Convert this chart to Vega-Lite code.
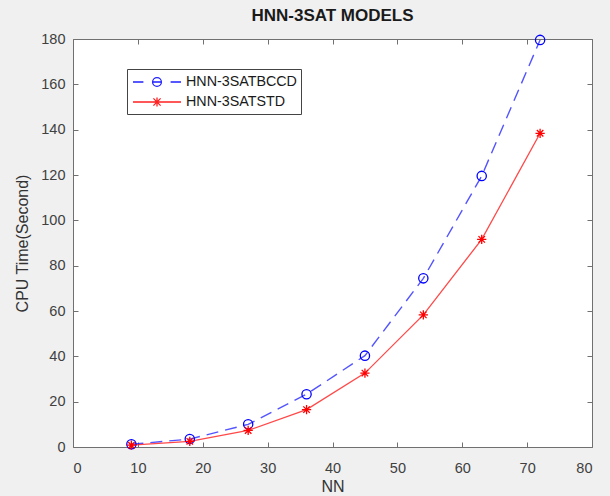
{
  "$schema": "https://vega.github.io/schema/vega-lite/v6.json",
  "width": 519,
  "height": 408,
  "autosize": {"type": "none"},
  "padding": {"left": 73, "top": 39, "right": 18, "bottom": 49},
  "background": "#f0f0f0",
  "title": {
    "text": "HNN-3SAT MODELS",
    "font": "Liberation Sans",
    "fontSize": 17,
    "fontWeight": "bold",
    "color": "#1a1a1a",
    "anchor": "middle",
    "offset": 6
  },
  "data": {
    "values": [
      {"NN": 9, "series": "HNN-3SATBCCD", "time": 1.2},
      {"NN": 18, "series": "HNN-3SATBCCD", "time": 3.5},
      {"NN": 27, "series": "HNN-3SATBCCD", "time": 10},
      {"NN": 36, "series": "HNN-3SATBCCD", "time": 23.3},
      {"NN": 45, "series": "HNN-3SATBCCD", "time": 40.3},
      {"NN": 54, "series": "HNN-3SATBCCD", "time": 74.4},
      {"NN": 63, "series": "HNN-3SATBCCD", "time": 119.6},
      {"NN": 72, "series": "HNN-3SATBCCD", "time": 179.6},
      {"NN": 9, "series": "HNN-3SATSTD", "time": 0.8},
      {"NN": 18, "series": "HNN-3SATSTD", "time": 2.5},
      {"NN": 27, "series": "HNN-3SATSTD", "time": 7.3},
      {"NN": 36, "series": "HNN-3SATSTD", "time": 16.5},
      {"NN": 45, "series": "HNN-3SATSTD", "time": 32.6},
      {"NN": 54, "series": "HNN-3SATSTD", "time": 58.3},
      {"NN": 63, "series": "HNN-3SATSTD", "time": 91.6},
      {"NN": 72, "series": "HNN-3SATSTD", "time": 138.4}
    ]
  },
  "encoding": {
    "x": {
      "field": "NN", "type": "quantitative",
      "scale": {"domain": [0, 80], "nice": false}
    },
    "y": {
      "field": "time", "type": "quantitative",
      "scale": {"domain": [0, 180], "nice": false}
    }
  },
  "layer": [
    {
      "transform": [{"filter": "datum.series === 'HNN-3SATBCCD'"}],
      "mark": {"type": "line", "strokeWidth": 1.4, "opacity": 0.75, "strokeDash": [12, 7], "stroke": "#1a1aff"},
      "encoding": {
        "x": {
          "field": "NN", "type": "quantitative",
          "axis": {"values": [0,10,20,30,40,50,60,70,80], "title": "NN", "titlePadding": 4}
        },
        "y": {
          "field": "time", "type": "quantitative",
          "axis": {"values": [0,20,40,60,80,100,120,140,160,180], "title": "CPU Time(Second)", "titlePadding": 10}
        }
      }
    },
    {
      "transform": [{"filter": "datum.series === 'HNN-3SATSTD'"}],
      "mark": {"type": "line", "strokeWidth": 1.3, "opacity": 0.8, "stroke": "#ff1a1a"},
      "encoding": {
        "x": {"field": "NN", "type": "quantitative", "axis": null},
        "y": {"field": "time", "type": "quantitative", "axis": null}
      }
    },
    {
      "transform": [{"filter": "datum.series === 'HNN-3SATBCCD'"}],
      "mark": {"type": "point", "shape": "circle", "filled": false, "size": 86, "strokeWidth": 1.3, "stroke": "#0000ff", "opacity": 1},
      "encoding": {
        "x": {
          "field": "NN", "type": "quantitative",
          "axis": {"orient": "top", "values": [0,10,20,30,40,50,60,70,80], "labels": false, "title": null}
        },
        "y": {
          "field": "time", "type": "quantitative",
          "axis": {"orient": "right", "values": [0,20,40,60,80,100,120,140,160,180], "labels": false, "title": null}
        }
      }
    },
    {
      "transform": [{"filter": "datum.series === 'HNN-3SATSTD'"}],
      "mark": {"type": "point", "shape": "M0,-1V1M-1,0H1M-0.7,-0.7L0.7,0.7M-0.7,0.7L0.7,-0.7", "filled": false, "size": 86, "strokeWidth": 1.3, "stroke": "#ff0000", "opacity": 1},
      "encoding": {
        "x": {"field": "NN", "type": "quantitative", "axis": null},
        "y": {"field": "time", "type": "quantitative", "axis": null}
      }
    },
    {
      "mark": {"type": "point", "filled": false, "opacity": 0, "strokeWidth": 1.3},
      "encoding": {
        "x": {"field": "NN", "type": "quantitative", "axis": null},
        "y": {"field": "time", "type": "quantitative", "axis": null},
        "color": {
          "field": "series", "type": "nominal",
          "scale": {"domain": ["HNN-3SATBCCD", "HNN-3SATSTD"], "range": ["#2020ff", "#ff2020"]},
          "legend": {
            "title": null,
            "orient": "none",
            "legendX": 54,
            "legendY": 30,
            "padding": 4,
            "symbolOffset": 17,
            "labelOffset": 20,
            "rowPadding": 3,
            "symbolSize": 256,
            "symbolStrokeWidth": 1.3,
            "symbolOpacity": 1,
            "strokeColor": "#444444",
            "fillColor": "white",
            "cornerRadius": 0,
            "labelFont": "Liberation Sans",
            "labelFontSize": 14.3,
            "labelColor": "#1a1a1a"
          }
        },
        "shape": {
          "field": "series", "type": "nominal",
          "scale": {
            "domain": ["HNN-3SATBCCD", "HNN-3SATSTD"],
            "range": [
              "M-3,0H-1.7M1.7,0H3M-0.55,0H0.55M-0.55,0A0.55,0.55 0 1,0 0.55,0A0.55,0.55 0 1,0 -0.55,0",
              "M-3,0H3M0,-0.55V0.55M-0.45,-0.45L0.45,0.45M-0.45,0.45L0.45,-0.45"
            ]
          },
          "legend": {
            "title": null,
            "orient": "none",
            "legendX": 54,
            "legendY": 30,
            "padding": 4,
            "symbolOffset": 17,
            "labelOffset": 20,
            "rowPadding": 3,
            "symbolSize": 256,
            "symbolStrokeWidth": 1.3,
            "symbolOpacity": 1,
            "strokeColor": "#444444",
            "fillColor": "white",
            "cornerRadius": 0,
            "labelFont": "Liberation Sans",
            "labelFontSize": 14.3,
            "labelColor": "#1a1a1a"
          }
        }
      }
    }
  ],
  "resolve": {"axis": {"x": "independent", "y": "independent"}},
  "config": {
    "view": {"stroke": null, "fill": "white"},
    "axis": {
      "grid": false,
      "domainColor": "#707070",
      "domainWidth": 1,
      "tickColor": "#707070",
      "tickSize": -5,
      "labelFont": "Liberation Sans",
      "labelFontSize": 14.5,
      "labelColor": "#404040",
      "titleFont": "Liberation Sans",
      "titleFontSize": 16,
      "titleFontWeight": "normal",
      "titleColor": "#333333"
    },
    "axisX": {"labelPadding": 19},
    "axisY": {"labelPadding": 13}
  }
}
